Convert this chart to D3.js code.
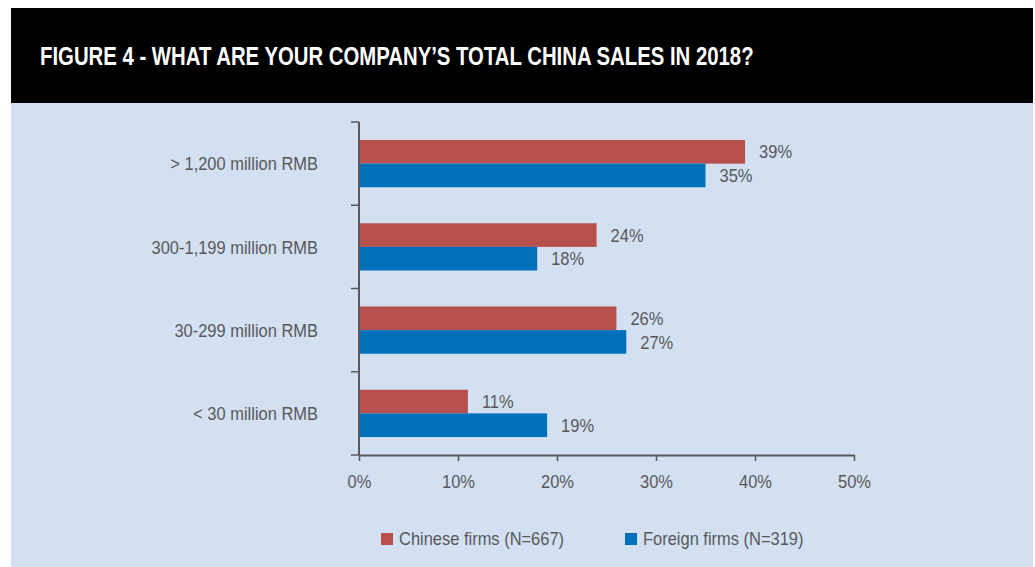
<!DOCTYPE html>
<html>
<head>
<meta charset="utf-8">
<script src="https://cdn.jsdelivr.net/npm/d3@7"></script>
<style>
  html, body { margin: 0; padding: 0; background: #ffffff; }
  svg { display: block; }
  text { font-family: "Liberation Sans", Arial, Helvetica, sans-serif; }
</style>
</head>
<body>
<svg id="chart" width="1035" height="567"></svg>
<script>
// Sales bands and the share of respondents in each, by firm type
const categories = ["> 1,200 million RMB", "300-1,199 million RMB", "30-299 million RMB", "< 30 million RMB"];
const chineseFirms = [39, 24, 26, 11];
const foreignFirms = [35, 18, 27, 19];
const seriesNames = ["Chinese firms (N=667)", "Foreign firms (N=319)"];
const seriesColors = ["#b8504d", "#0070bb"];
const xTicks = [0, 10, 20, 30, 40, 50];
const titleText = "FIGURE 4 - WHAT ARE YOUR COMPANY\u2019S TOTAL CHINA SALES IN 2018?";

const svg = d3.select("#chart");
const textColor = "#58585a";
const axisColor = "#58585a";
const narrow = 0.89;      // horizontal squeeze giving a condensed face
const fontSize = 18.5;

// Place a condensed text at (x, y)
function placeNarrow(sel, x, y) {
  return sel.attr("x", 0).attr("y", 0)
    .attr("transform", `translate(${x},${y}) scale(${narrow},1)`);
}

// Header band and panel
svg.append("rect").attr("x", 11).attr("y", 8).attr("width", 1022).attr("height", 95).attr("fill", "#000");
svg.append("rect").attr("x", 11).attr("y", 103).attr("width", 1022).attr("height", 464).attr("fill", "#d3e0f2");

const title = svg.append("text")
  .attr("fill", "#fff")
  .attr("font-size", 26.5)
  .attr("font-weight", "bold")
  .text(titleText);
const titleWidth = title.node().getComputedTextLength();
title.attr("transform", `translate(40,65) scale(${714 / titleWidth},1)`);

// Scales
const x = d3.scaleLinear().domain([0, 50]).range([359, 854]);
const y = d3.scaleBand().domain(categories).range([122, 455]).padding(0);
const inner = d3.scaleBand().domain([0, 1]).range([18, y.bandwidth() - 18]).padding(0);

const rows = categories.map((c, i) => ({ cat: c, values: [chineseFirms[i], foreignFirms[i]] }));

// Bars with value labels
const g = svg.append("g");
rows.forEach(r => {
  r.values.forEach((v, s) => {
    const yy = y(r.cat) + inner(s);
    g.append("rect")
      .attr("x", x(0)).attr("y", yy)
      .attr("width", x(v) - x(0)).attr("height", inner.bandwidth())
      .attr("fill", seriesColors[s]);
    g.append("text")
      .call(placeNarrow, x(v) + 14, yy + inner.bandwidth() / 2)
      .attr("dy", "0.36em")
      .attr("fill", textColor)
      .attr("font-size", fontSize)
      .text(v + "%");
  });
});

// X axis
const xAxis = svg.append("g")
  .attr("transform", "translate(0,455)")
  .call(d3.axisBottom(x).tickValues(xTicks).tickFormat(d => d + "%").tickSize(6).tickSizeOuter(0));
xAxis.select(".domain").attr("stroke", axisColor).attr("stroke-width", 2);
xAxis.selectAll(".tick line").attr("stroke", axisColor).attr("stroke-width", 1.5);
xAxis.selectAll(".tick text")
  .attr("y", 33).attr("dy", null)
  .attr("transform", `scale(${narrow},1)`)
  .attr("fill", textColor)
  .attr("font-size", fontSize)
  .attr("font-family", null);

// Y axis: line with ticks at category boundaries
const bounds = categories.map(c => y(c)).concat([y.range()[1]]);
svg.append("line").attr("x1", x(0)).attr("x2", x(0)).attr("y1", 122).attr("y2", 455)
  .attr("stroke", axisColor).attr("stroke-width", 2);
svg.append("g").selectAll("line").data(bounds).join("line")
  .attr("x1", x(0) - 8).attr("x2", x(0)).attr("y1", d => d).attr("y2", d => d)
  .attr("stroke", axisColor).attr("stroke-width", 1.5);
svg.append("g").selectAll("text").data(categories).join("text")
  .each(function (d) { placeNarrow(d3.select(this), 318, y(d) + y.bandwidth() / 2); })
  .attr("dy", "0.36em")
  .attr("text-anchor", "end")
  .attr("fill", textColor)
  .attr("font-size", fontSize)
  .text(d => d);

// Legend
const legendX = [381, 625];
seriesNames.forEach((n, i) => {
  svg.append("rect").attr("x", legendX[i]).attr("y", 533).attr("width", 12).attr("height", 12).attr("fill", seriesColors[i]);
  svg.append("text")
    .call(placeNarrow, legendX[i] + 18, 545)
    .attr("fill", textColor).attr("font-size", fontSize)
    .text(n);
});
</script>
</body>
</html>
